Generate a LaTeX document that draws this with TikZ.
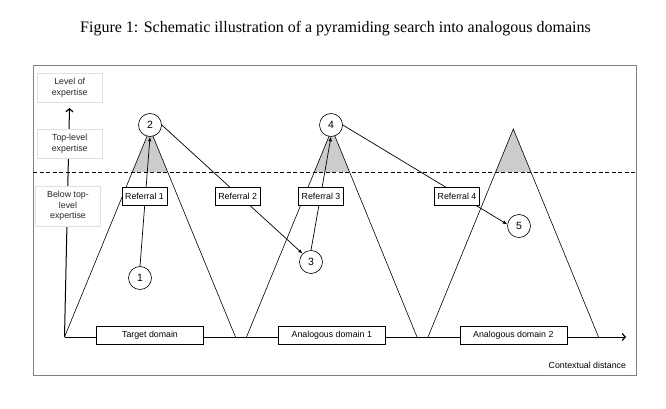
\documentclass[tikz,border=0pt]{standalone}
\usepackage{fontspec}
\setmainfont{Liberation Serif}
\newfontfamily\arialf{Liberation Sans}
\usetikzlibrary{arrows.meta}
\begin{document}
\begin{tikzpicture}[x=1pt,y=-1pt,
  every node/.style={font=\arialf\fontsize{8.8}{10.6}\selectfont},
  tri/.style={line width=0.6pt},
  peak/.style={fill=black!20, draw=none},
  refbox/.style={draw, fill=white, line width=0.6pt, minimum height=18.4pt, inner xsep=3pt, inner ysep=0pt},
  dombox/.style={draw, fill=white, line width=0.6pt, minimum width=107pt, minimum height=17.6pt, inner sep=0pt},
  lvlbox/.style={draw=black!12, fill=white, align=center, minimum width=65pt, inner sep=1pt, text=black!85},
  stage/.style={circle, draw, fill=white, line width=0.6pt, minimum size=23pt, inner sep=0pt, font=\arialf\fontsize{10.5}{12}\selectfont},
  conn/.style={line width=0.7pt, -{Latex[length=4.5pt,width=3.5pt]}},
  axis/.style={line width=1pt, -{Straight Barb[length=3pt,width=7pt,line width=1.2pt]}},
  guide/.style={dash pattern=on 4pt off 2.5pt, line width=0.7pt}
]
\useasboundingbox (0,0) rectangle (666,409);
\node[font=\fontsize{16}{18}\selectfont] (title) at (335.5,29) {Figure 1: Schematic illustration of a pyramiding search into analogous domains};
\draw[black!50, line width=0.8pt] (33,65) rectangle (636,375);
% shaded peaks
\fill[peak] (150,129) -- (132.3,172) -- (167.7,172) -- cycle;
\fill[peak] (332,129) -- (314.3,172) -- (349.7,172) -- cycle;
\fill[peak] (513.3,129) -- (495.6,172) -- (531,172) -- cycle;
% pyramids
\draw[tri] (64.5,337) -- (150,129) -- (235.5,337);
\draw[tri] (246.5,337) -- (332,129) -- (417,337);
\draw[tri] (428,337) -- (513.3,129) -- (598.5,337);
% dashed top-level line
\draw[guide] (33,172) -- (636,172);
% axes
\coordinate (origin) at (64.5,337);
\coordinate (xtip) at (626,337);
\coordinate (ytip) at (69.5,108);
\draw[axis] (origin) -- (xtip);
\draw[axis] (origin) -- (ytip);
% stages
\node[stage] (c1) at (140,278) {1};
\node[stage] (c2) at (150,125) {2};
\node[stage] (c3) at (311,262) {3};
\node[stage] (c4) at (331,125) {4};
\node[stage] (c5) at (519,226) {5};
\draw[conn] (c1.north) -- (c2.south);
\draw[conn] (c2.east) -- (c3.north west);
\draw[conn] (c3.north) -- (c4.south);
\draw[conn] (c4.east) -- (c5.172);
% referrals
\node[refbox] (r1) at (144.5,196.5) {Referral 1};
\node[refbox] (r2) at (237.7,196.5) {Referral 2};
\node[refbox] (r3) at (321,196.5) {Referral 3};
\node[refbox] (r4) at (457,196.5) {Referral 4};
% domains
\node[dombox] (d0) at (150,335.5) {Target domain};
\node[dombox] (d1) at (331.8,335.5) {Analogous domain 1};
\node[dombox] (d2) at (513.3,335.5) {Analogous domain 2};
\node[anchor=east] (xlab) at (629.5,365) {Contextual distance};
% level labels
\node[lvlbox, minimum height=29.4pt] (l1) at (69.7,88) {Level of\\expertise};
\node[lvlbox, minimum height=28.4pt] (l2) at (69.7,143.5) {Top-level\\expertise};
\node[lvlbox, minimum height=39.7pt] (l3) at (68,206) {Below top-\\level\\expertise};
\end{tikzpicture}
\end{document}
